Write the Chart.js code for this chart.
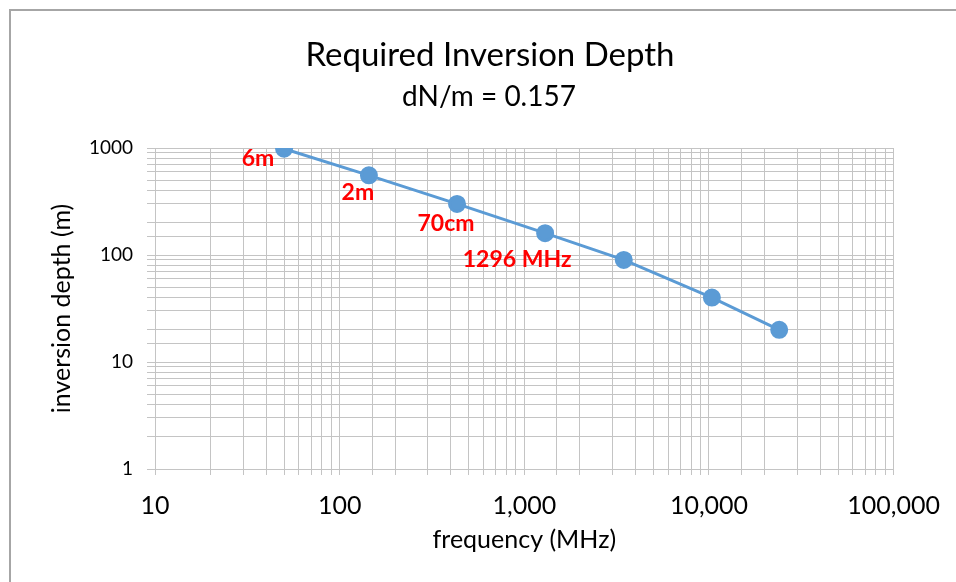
<!DOCTYPE html>
<html>
<head>
<meta charset="utf-8">
<script src="https://cdn.jsdelivr.net/npm/chart.js@4.4.1/dist/chart.umd.min.js"></script>
<style>
    body { margin: 0; background: #fff; }
    #frame {
        position: absolute; left: 9px; top: 9px;
        width: 980px; height: 600px;
        border-left: 2px solid #a6a6a6; border-top: 2px solid #a6a6a6;
    }
    #chartBox { position: absolute; left: 0; top: 0; width: 956px; height: 582px; }
</style>
</head>
<body>
<div id="frame"></div>
<div id="chartBox"><canvas id="depthChart" width="956" height="582"></canvas></div>
<script>
// amateur bands (MHz) and required inversion depth (m)
const frequencies = [50, 144, 432, 1296, 3456, 10368, 24000];
const depths = [985, 555, 300, 160, 90, 40, 20];
const bandLabels = ["6m", "2m", "70cm", "1296 MHz", "", "", ""];

const xTickValues = [10, 100, 1000, 10000, 100000];
const yTickValues = [1, 10, 100, 1000];

const titleText = "Required Inversion Depth";
const subtitleText = "dN/m = 0.157";

const FONT = "Lato, 'Open Sans', sans-serif";

// title block is centred on the whole chart frame, not the canvas
const titlePlugin = {
    id: "titleBlock",
    afterDraw(chart) {
        const ctx = chart.ctx;
        ctx.save();
        ctx.fillStyle = "#000";
        ctx.textAlign = "center";
        ctx.textBaseline = "alphabetic";
        ctx.font = "33px " + FONT;
        ctx.fillText(titleText, 490, 66);
        ctx.font = "28px " + FONT;
        ctx.fillText(subtitleText, 489, 106);
        ctx.restore();
    }
};

// red labels next to the first few points
const labelOffsets = [[-26, 10], [-11, 17], [-11, 20], [-28, 26]];
const bandLabelPlugin = {
    id: "bandLabels",
    afterDatasetsDraw(chart) {
        const ctx = chart.ctx;
        const meta = chart.getDatasetMeta(0);
        ctx.save();
        ctx.font = "bold 23px " + FONT;
        ctx.fillStyle = "#ff0000";
        ctx.textAlign = "center";
        ctx.textBaseline = "middle";
        meta.data.forEach(function (pt, i) {
            if (!bandLabels[i]) return;
            const off = labelOffsets[i];
            ctx.fillText(bandLabels[i], pt.x + off[0], pt.y + off[1]);
        });
        ctx.restore();
    }
};

const ctx = document.getElementById("depthChart").getContext("2d");

new Chart(ctx, {
    type: "scatter",
    data: {
        datasets: [{
            data: frequencies.map(function (f, i) { return { x: f, y: depths[i] }; }),
            showLine: true,
            borderColor: "#5b9bd5",
            backgroundColor: "#5b9bd5",
            borderWidth: 3,
            pointRadius: 7.5,
            pointHoverRadius: 7.5
        }]
    },
    options: {
        responsive: false,
        animation: false,
        layout: { padding: { left: 0, right: 61, top: 148, bottom: 0 } },
        plugins: {
            legend: { display: false },
            tooltip: { enabled: false },
            title: { display: false }
        },
        scales: {
            x: {
                type: "logarithmic",
                min: 10,
                max: 100000,
                afterFit: function (scale) { scale.height = 113; },
                grid: { color: "#c4c4c4", lineWidth: 1, tickLength: 6 },
                border: { color: "#c4c4c4" },
                ticks: {
                    autoSkip: false,
                    maxRotation: 0,
                    padding: 16,
                    color: "#000",
                    font: { family: FONT, size: 25 },
                    callback: function (v) {
                        return xTickValues.includes(v) ? v.toLocaleString("en-US") : "";
                    }
                },
                title: {
                    display: true,
                    text: "frequency (MHz)",
                    color: "#000",
                    font: { family: FONT, size: 25 },
                    padding: { top: 0, bottom: 27 }
                }
            },
            y: {
                type: "logarithmic",
                min: 1,
                max: 1000,
                afterFit: function (scale) { scale.width = 155; },
                grid: { color: "#c4c4c4", lineWidth: 1, tickLength: 8 },
                border: { color: "#c4c4c4" },
                ticks: {
                    autoSkip: false,
                    padding: 14,
                    color: "#000",
                    font: { family: FONT, size: 19 },
                    callback: function (v) {
                        return yTickValues.includes(v) ? String(v) : "";
                    }
                },
                title: {
                    display: true,
                    text: "inversion depth (m)",
                    color: "#000",
                    font: { family: FONT, size: 25 },
                    padding: { top: 47, bottom: 0 }
                }
            }
        }
    },
    plugins: [bandLabelPlugin, titlePlugin]
});
</script>
</body>
</html>
